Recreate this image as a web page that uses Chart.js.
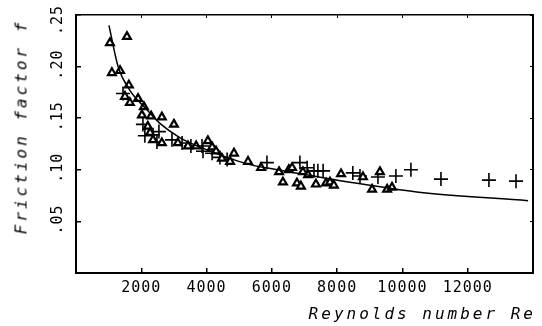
<!DOCTYPE html>
<html>
<head>
<meta charset="utf-8">
<script src="https://cdn.jsdelivr.net/npm/chart.js@4.4.1/dist/chart.umd.min.js"></script>
<style>
  html, body { margin: 0; padding: 0; background: #fff; }
  #wrap { position: relative; width: 542px; height: 326px; }
  canvas { display: block; }
  .ttl { position: absolute; font-family: "DejaVu Sans Mono", monospace; font-style: oblique;
         font-size: 16px; letter-spacing: 3px; color: #000; white-space: nowrap; }
  #xt { right: 6px; top: 304px; }
  #yt { left: 21px; top: 127px; transform: translate(-50%, -50%) rotate(-90deg); }
</style>
</head>
<body>
<div id="wrap">
  <canvas id="chart" width="542" height="326"></canvas>
  <div class="ttl" id="xt">Reynolds number Re</div>
  <div class="ttl" id="yt">Friction factor f</div>
</div>
<script>
// triangles (open markers)
const triRe = [1040, 1560, 1100, 1350, 1620, 1500, 1650, 1900, 2080, 2020, 2300, 2630, 3000, 2200, 2270, 2360,
               2630, 3120, 3430, 3680, 4040, 4170, 4290, 4470, 4840, 4720, 5270, 5670, 6220, 6340, 6520, 6620,
               6770, 6890, 6950, 7110, 7350, 7660, 7780, 7900, 8120, 8790, 9070, 9310, 9530, 9680];
const triF = [0.223, 0.229, 0.194, 0.196, 0.182, 0.171, 0.165, 0.169, 0.161, 0.153, 0.152, 0.151, 0.144, 0.142, 0.136, 0.129,
              0.126, 0.126, 0.123, 0.123, 0.128, 0.122, 0.118, 0.111, 0.116, 0.108, 0.108, 0.102, 0.098, 0.088, 0.100, 0.102,
              0.087, 0.084, 0.098, 0.095, 0.086, 0.087, 0.088, 0.085, 0.096, 0.093, 0.081, 0.098, 0.081, 0.083];

// crosses
const crossRe = [1440, 2050, 2110, 2360, 2540, 2480, 2940, 3250, 3520, 3860, 3890, 4170, 4410, 4630,
                 5850, 6860, 7080, 7290, 7410, 7570, 8480, 8700, 9250, 9800, 10260, 11180, 12650, 13480];
const crossF = [0.174, 0.144, 0.133, 0.134, 0.137, 0.127, 0.129, 0.126, 0.123, 0.123, 0.118, 0.116, 0.112, 0.110,
                0.107, 0.107, 0.102, 0.099, 0.099, 0.099, 0.097, 0.094, 0.093, 0.094, 0.100, 0.091, 0.090, 0.089];

// fitted curve
const fitRe = [1010, 1290, 1650, 2180, 2570, 3190, 3800, 5330, 6000, 8390, 10440, 13850];
const fitF = [0.240, 0.200, 0.177, 0.158, 0.145, 0.131, 0.122, 0.105, 0.101, 0.088, 0.0785, 0.070];

const xTicks = [2000, 4000, 6000, 8000, 10000, 12000];
const yTicks = [0.05, 0.10, 0.15, 0.20, 0.25];

const ink = '#000';
const monoFont = '"DejaVu Sans Mono", monospace';

const pts = (xs, ys) => xs.map((x, i) => ({ x: x, y: ys[i] }));
const yFmt = v => v.toFixed(2).replace(/^0/, '');

// y tick labels are rotated like in the original, drawn at the scale's pixel for each value
const yLabels = {
    id: 'yLabels',
    beforeDraw(chart) {
        chart.ctx.letterSpacing = '1px';
    },
    afterDraw(chart) {
        const s = chart.scales.y;
        const ctx = chart.ctx;
        ctx.save();
        ctx.font = '15px ' + monoFont;
        ctx.letterSpacing = '1px';
        ctx.fillStyle = ink;
        ctx.textAlign = 'center';
        ctx.textBaseline = 'middle';
        yTicks.forEach(v => {
            let py = s.getPixelForValue(v) - 2;
            py = Math.max(py, chart.chartArea.top + 5);
            ctx.save();
            ctx.translate(58, py);
            ctx.rotate(-Math.PI / 2);
            ctx.fillText(yFmt(v), 0, 0);
            ctx.restore();
        });
        ctx.restore();
    }
};

const ctx = document.getElementById('chart').getContext('2d');
new Chart(ctx, {
    type: 'scatter',
    data: {
        datasets: [
            {
                type: 'line',
                data: pts(fitRe, fitF),
                borderColor: ink,
                borderWidth: 1.5,
                pointRadius: 0,
                cubicInterpolationMode: 'monotone',
                fill: false
            },
            {
                data: pts(triRe, triF),
                pointStyle: 'triangle',
                pointRadius: 4.5,
                borderWidth: 2.2,
                borderColor: ink,
                backgroundColor: '#fff'
            },
            {
                data: pts(crossRe, crossF),
                pointStyle: 'cross',
                pointRadius: 7,
                borderWidth: 1.6,
                borderColor: ink
            }
        ]
    },
    options: {
        responsive: false,
        animation: false,
        events: [],
        layout: { padding: { left: 0, top: 15, right: 9, bottom: 0 } },
        plugins: { legend: { display: false }, tooltip: { enabled: false } },
        scales: {
            x: {
                type: 'linear', position: 'bottom', min: 0, max: 14000,
                afterBuildTicks: s => { s.ticks = xTicks.map(v => ({ value: v })); },
                afterFit: s => { s.height = 53; },
                ticks: { color: ink, font: { family: monoFont, size: 15 }, padding: 11, maxRotation: 0,
                         callback: v => String(v) },
                grid: { drawOnChartArea: false, tickLength: -5, color: ink, lineWidth: 1.5 },
                border: { color: ink, width: 2 }
            },
            xTop: {
                type: 'linear', position: 'top', min: 0, max: 14000,
                afterBuildTicks: s => { s.ticks = xTicks.map(v => ({ value: v })); },
                afterFit: s => { s.height = 0; },
                ticks: { display: false },
                grid: { drawOnChartArea: false, tickLength: -3, color: ink, lineWidth: 1 },
                border: { color: ink, width: 1.5 }
            },
            y: {
                type: 'linear', position: 'left', min: 0, max: 0.25,
                afterBuildTicks: s => { s.ticks = yTicks.map(v => ({ value: v })); },
                afterFit: s => { s.width = 76; },
                ticks: { display: false },
                grid: { drawOnChartArea: false, tickLength: -5, color: ink, lineWidth: 1.5 },
                border: { color: ink, width: 2 }
            },
            yRight: {
                type: 'linear', position: 'right', min: 0, max: 0.25,
                afterBuildTicks: s => { s.ticks = yTicks.map(v => ({ value: v })); },
                afterFit: s => { s.width = 0; },
                ticks: { display: false },
                grid: { drawOnChartArea: false, tickLength: -3, color: ink, lineWidth: 1 },
                border: { color: ink, width: 2 }
            }
        }
    },
    plugins: [yLabels]
});
</script>
</body>
</html>
